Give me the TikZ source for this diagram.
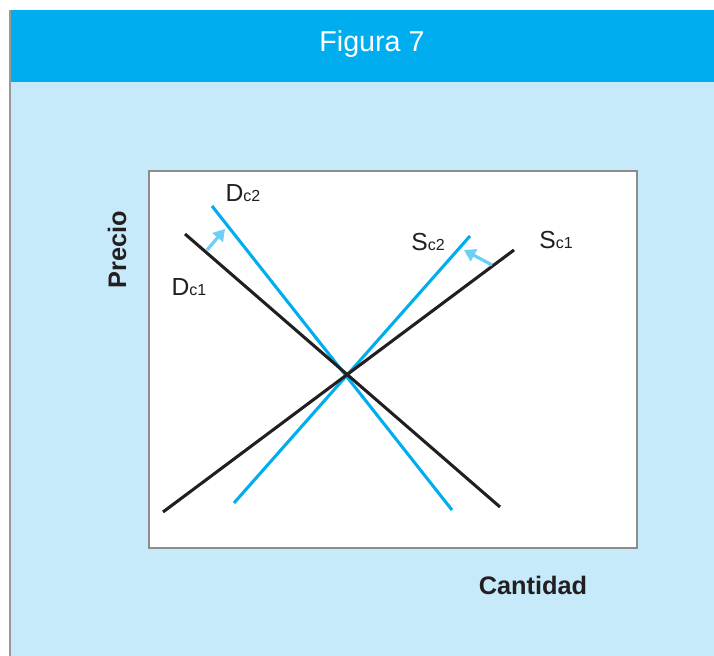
\documentclass[tikz,border=0pt]{standalone}
\usepackage{fontspec}
\setmainfont{Liberation Sans}
\usetikzlibrary{arrows.meta}

\definecolor{cabecera}{HTML}{00AEEF}
\definecolor{fondo}{HTML}{C7EAFA}
\definecolor{azulcurva}{HTML}{00AEEF}
\definecolor{flecha}{HTML}{6DCFF6}
\definecolor{negro}{HTML}{231F20}

\newcommand{\rotulo}[2]{#1{\fontsize{12}{12}\selectfont #2}}

\begin{document}
\begin{tikzpicture}[x=0.75pt, y=-0.75pt,
    negra/.style={draw=negro, line width=2.3pt},
    azul/.style={draw=azulcurva, line width=2.3pt},
    arr/.style={-{Triangle[length=8.5pt, width=10pt]}, draw=flecha, fill=flecha, line width=2.4pt},
    etq/.style={font=\fontsize{18.5}{18.5}\selectfont, text=negro, inner sep=0pt},
    eje/.style={font=\bfseries\fontsize{19}{19}\selectfont, text=negro, inner sep=0pt}
]
    \useasboundingbox (0,0) rectangle (714,656);
    \fill[fondo] (10,82) rectangle (714,656);
    \fill[cabecera] (10,10) rectangle (714,82);
    \draw[gray!80, line width=1pt] (10,10) -- (10,656);

    \node[text=white, font=\fontsize{21.5}{21.5}\selectfont] (titulo) at (372,44) {Figura 7};
    \node[draw=gray!90, fill=white, line width=1.2pt, minimum width=366pt, minimum height=283pt] (marco) at (393,359.5) {};

    % curvas
    \coordinate (d1a) at (185,234);
    \coordinate (d1b) at (500,507);
    \coordinate (d2a) at (212,206);
    \coordinate (d2b) at (452,510);
    \coordinate (s1a) at (163,512);
    \coordinate (s1b) at (514,250);
    \coordinate (s2a) at (234,503);
    \coordinate (s2b) at (470,236);

    \draw[azul] (d2a) -- (d2b);
    \draw[azul] (s2a) -- (s2b);
    \draw[negra] (d1a) -- (d1b);
    \draw[negra] (s1a) -- (s1b);

    % desplazamientos
    \coordinate (fd1) at (207,250);
    \coordinate (fd2) at (225,229);
    \coordinate (fs1) at (492,265);
    \coordinate (fs2) at (464,250);
    \draw[arr] (fd1) -- (fd2);
    \draw[arr] (fs1) -- (fs2);

    \node[etq] (dc2) at (243,193) {\rotulo{D}{c2}};
    \node[etq] (dc1) at (189,287) {\rotulo{D}{c1}};
    \node[etq] (sc2) at (428,242) {\rotulo{S}{c2}};
    \node[etq] (sc1) at (556,240) {\rotulo{S}{c1}};

    \node[eje, rotate=90] (precio) at (117,250) {Precio};
    \node[eje] (cantidad) at (533,585) {Cantidad};
\end{tikzpicture}
\end{document}
